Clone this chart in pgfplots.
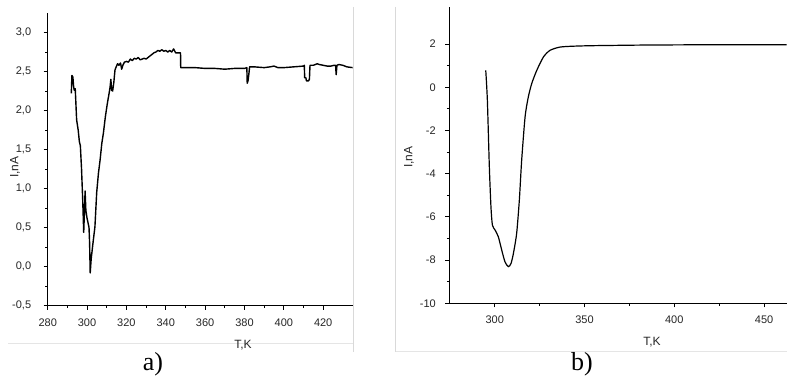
\documentclass[border=0pt]{standalone}
\usepackage{fontspec}
\setmainfont{Liberation Sans}
\newfontfamily\serifa{Liberation Serif}
\usepackage{pgfplots}
\pgfplotsset{compat=1.18}
\begin{document}
\begin{tikzpicture}[x=1pt,y=1pt]
\useasboundingbox (0,0) rectangle (800,389);
\fill[white] (0,0) rectangle (800,389);
% faint frame lines of the original images
\draw[gray!30, line width=0.6pt] (353.5,382) -- (353.5,37);
\draw[gray!30, line width=0.6pt] (395.5,382) -- (395.5,37);
\draw[gray!20, line width=0.6pt] (8,46) -- (353,46);
\draw[gray!20, line width=0.6pt] (396,37.5) -- (787,37.5);
\begin{axis}[
  at={(47.7pt,83.3pt)}, anchor=south west,
  scale only axis, width=305pt, height=292.7pt,
  xmin=280, xmax=435, ymin=-0.5, ymax=3.25,
  axis x line*=bottom, axis y line*=left,
  axis line style={line width=0.9pt, -},
  xtick={280,300,...,420}, minor x tick num=1,
  ytick={-0.5,0,0.5,1,1.5,2,2.5,3}, minor y tick num=1,
  tick align=outside, major tick length=4pt, minor tick length=2.5pt,
  tick style={black, line width=0.8pt},
  tick label style={font=\fontsize{11}{13}\selectfont, text=black!85},
  /pgf/number format/assume math mode=true,
  yticklabel style={xshift=-9pt, /pgf/number format/.cd, fixed, fixed zerofill, precision=1, use comma},
  xticklabel style={yshift=-6pt, /pgf/number format/.cd, fixed, precision=0},
]
\addplot[black, line width=1.4pt, line join=round] coordinates {
(292.0,2.22) (292.3,2.45) (292.8,2.43) (293.2,2.30) (293.5,2.26) (294.0,2.28)
(294.7,1.88) (295.5,1.75) (296.1,1.60) (296.6,1.55) (297.2,1.25) (297.8,0.85)
(298.3,0.44) (298.8,0.80) (299.0,0.97) (299.4,0.72) (300.0,0.62) (300.6,0.55)
(301.0,0.50) (301.3,0.30) (301.6,-0.08) (302.1,0.10) (303.0,0.30) (304.0,0.51)
(304.9,0.95) (305.8,1.20) (306.6,1.36) (307.5,1.58) (308.3,1.71) (309.3,1.92)
(310.3,2.09) (311.2,2.22) (311.7,2.30) (312.1,2.40) (312.5,2.26) (313.0,2.25)
(313.6,2.36) (314.2,2.52) (314.8,2.56) (315.5,2.60) (316.2,2.58) (317.0,2.61)
(317.6,2.53) (318.2,2.58) (319.0,2.62) (320.0,2.63) (321.0,2.62) (322.0,2.66)
(323.0,2.64) (324.0,2.67) (325.0,2.66) (326.0,2.68) (327.0,2.65) (328.0,2.66)
(329.0,2.67) (330.0,2.66) (331.0,2.68) (332.0,2.70) (333.0,2.72) (334.0,2.74)
(335.0,2.75) (336.0,2.77) (337.0,2.76) (338.0,2.78) (339.0,2.76) (340.0,2.77)
(341.0,2.75) (342.0,2.77) (343.0,2.75) (344.0,2.79) (345.0,2.74) (346.0,2.74)
(347.5,2.74) (347.6,2.55) (350.0,2.55) (355.0,2.55) (360.0,2.54) (365.0,2.54)
(370.0,2.53) (375.0,2.54) (380.0,2.54) (381.2,2.55) (381.4,2.35) (381.8,2.38)
(382.2,2.46) (382.6,2.56) (385.0,2.56) (390.0,2.55) (393.0,2.56) (395.0,2.57)
(397.0,2.55) (400.0,2.55) (405.0,2.56) (410.0,2.57) (410.4,2.58) (410.6,2.42)
(411.2,2.42) (411.5,2.38) (412.5,2.38) (413.0,2.40) (413.3,2.58) (415.0,2.58)
(417.0,2.60) (418.0,2.59) (420.0,2.58) (422.0,2.57) (424.0,2.57) (425.5,2.58)
(426.3,2.58) (426.6,2.46) (427.0,2.58) (428.0,2.59) (430.0,2.58) (432.0,2.56)
(435.0,2.55)
};
\end{axis}
\begin{axis}[
  at={(449.3pt,85.7pt)}, anchor=south west,
  scale only axis, width=337.4pt, height=296pt,
  xmin=274.7, xmax=462.6, ymin=-10, ymax=3.7,
  axis x line*=bottom, axis y line*=left,
  axis line style={line width=0.9pt, -},
  xtick={300,350,400,450}, minor x tick num=1,
  ytick={-10,-8,...,2}, minor y tick num=1,
  tick align=outside, major tick length=4pt, minor tick length=2.5pt,
  tick style={black, line width=0.8pt},
  tick label style={font=\fontsize{11}{13}\selectfont, text=black!85},
  yticklabel style={xshift=-6pt},
  xticklabel style={yshift=-5pt},
  /pgf/number format/assume math mode=true,
]
\addplot[black, line width=1.2pt, line join=round, smooth, tension=0.4] coordinates {
(295.0,0.78) (295.9,-0.60) (297.0,-3.69) (297.9,-5.54) (298.7,-6.38) (300.2,-6.61)
(302.0,-6.92) (303.9,-7.54) (305.7,-8.08) (307.6,-8.31) (309.1,-8.15) (310.4,-7.69)
(312.2,-6.77) (313.7,-5.23) (315.0,-3.38) (316.9,-1.37) (318.7,-0.45) (320.6,0.17)
(323.4,0.78) (327.1,1.40) (330.8,1.71) (336.4,1.86) (343.8,1.90) (352,1.92)
(360,1.93) (380,1.95) (400,1.96) (430,1.97) (462.6,1.97)
};
\end{axis}
\node[font=\fontsize{12}{14}\selectfont, text=black!85] at (243,44) {T,K};
\node[font=\fontsize{12}{14}\selectfont, text=black!85, rotate=90] at (15,222) {I,nA};
\node[font=\fontsize{12}{14}\selectfont, text=black!85] at (652,47) {T,K};
\node[font=\fontsize{12}{14}\selectfont, text=black!85, rotate=90] at (409,232) {I,nA};
\node[font=\serifa\fontsize{26}{30}\selectfont] at (153,25) {a)};
\node[font=\serifa\fontsize{26}{30}\selectfont] at (582,25) {b)};
\end{tikzpicture}
\end{document}
